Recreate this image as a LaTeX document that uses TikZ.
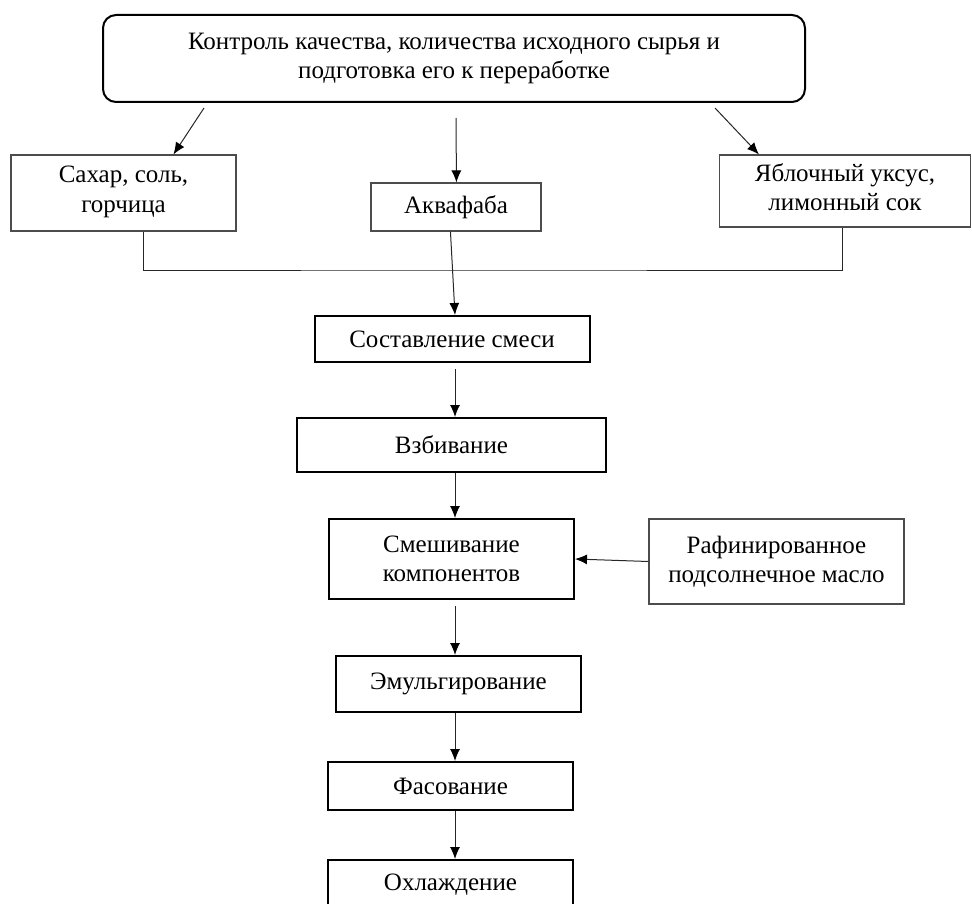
\documentclass[tikz,border=0pt]{standalone}
\usepackage{fontspec}
\setmainfont{Liberation Serif}
\usetikzlibrary{arrows.meta}
\begin{document}
\begin{tikzpicture}[x=1pt,y=-1pt,
  every node/.style={font=\fontsize{25}{29.5}\selectfont, align=center, inner sep=0pt},
  thick box/.style={draw=black, line width=2pt},
  thin box/.style={draw=black!70, line width=1.1pt},
  conn/.style={draw=black!85, line width=1pt},
  arr/.style={conn, -{Latex[length=12pt,width=10pt,color=black]}}]
\useasboundingbox (0,0) rectangle (972,904);
\clip (0,0) rectangle (972,904);
\coordinate (flowx) at (455,0);
\node[thick box, rounded corners=13pt, minimum width=702, minimum height=87] (top) at (454,58.5)
  {Контроль качества, количества исходного сырья и\\подготовка его к переработке};
\node[thin box, minimum width=225, minimum height=76, text depth=8pt] (sah) at (123.5,193) {Сахар, соль,\\горчица};
\node[thin box, minimum width=170, minimum height=48] (akv) at (456,207) {Аквафаба};
\node[thin box, minimum width=251, minimum height=72, text depth=8pt] (yab) at (845,191) {Яблочный уксус,\\лимонный сок};
\node[thick box, minimum width=275, minimum height=46] (sost) at (452,339) {Составление смеси};
\node[thick box, minimum width=309, minimum height=54] (vzb) at (451.5,445) {Взбивание};
\node[thick box, minimum width=245, minimum height=80] (smesh) at (451.5,559) {Смешивание\\компонентов};
\node[thin box, minimum width=255, minimum height=85] (raf) at (776.5,561.5) {Рафинированное\\подсолнечное масло};
\node[thick box, minimum width=245, minimum height=56] (emul) at (458.5,684) {Эмульгирование};
\node[thick box, minimum width=245, minimum height=48] (fas) at (450.5,786) {Фасование};
\node[thick box, minimum width=245, minimum height=50] (okh) at (450.5,885) {Охлаждение};
\coordinate (jn) at (455,270);
% top arrows
\draw[arr] ([xshift=102pt,yshift=-5pt]top.south west) -- ([xshift=163pt]sah.north west);
\draw[arr] ([xshift=354pt,yshift=-15pt]top.south west) -- ([xshift=86pt]akv.north west);
\draw[arr] ([xshift=613pt,yshift=-5pt]top.south west) -- ([xshift=40pt]yab.north west);
% collector
\draw[conn] ([xshift=133pt]sah.south west) |- (jn) -| ([xshift=124pt]yab.south west);
\draw[arr] ([xshift=80pt]akv.south west) -- (sost.north -| flowx);
% main flow
\draw[arr, shorten <=6pt] (sost.south -| flowx) -- (vzb.north -| flowx);
\draw[arr] (vzb.south -| flowx) -- (smesh.north -| flowx);
\draw[arr] (raf.west) -- (smesh.east);
\draw[arr, shorten <=6pt] (smesh.south -| flowx) -- (emul.north -| flowx);
\draw[arr] (emul.south -| flowx) -- (fas.north -| flowx);
\draw[arr] (fas.south -| flowx) -- (okh.north -| flowx);
\end{tikzpicture}
\end{document}
